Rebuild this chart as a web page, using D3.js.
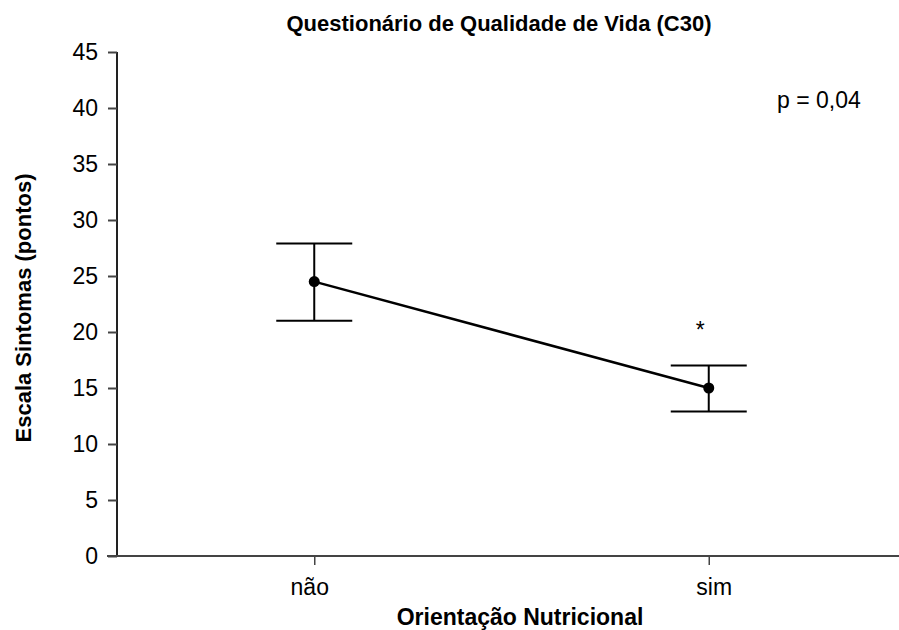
<!DOCTYPE html>
<html>
<head>
<meta charset="utf-8">
<script src="https://cdn.jsdelivr.net/npm/d3@7"></script>
<style>
  body { margin: 0; background: #fff; }
  text { font-family: "Liberation Sans", Arial, sans-serif; fill: #000; }
</style>
</head>
<body>
<svg id="canvas" width="899" height="630"></svg>
<script>
// data
var categories = ["não", "sim"];
var means = [24.5, 15.0];
var upper = [27.9, 17.0];
var lower = [21.0, 12.9];
var yTicks = [0, 5, 10, 15, 20, 25, 30, 35, 40, 45];

var svg = d3.select("#canvas");

// plot area (note: "top" is taken by window.top, so use other names)
var plotLeft = 117, plotRight = 906, plotTop = 52, plotBottom = 556;
var fontSize = "23px";

var x = d3.scalePoint().domain(categories).range([plotLeft, plotRight]).padding(0.5);
var y = d3.scaleLinear().domain([0, 45]).range([plotBottom, plotTop]);

// y axis
var yAxis = svg.append("g")
    .attr("transform", "translate(" + plotLeft + ",0)")
    .call(d3.axisLeft(y).tickValues(yTicks).tickSize(9).tickPadding(10));
yAxis.select(".domain").attr("stroke", "#222").attr("stroke-width", 2)
    .attr("d", "M0," + plotBottom + "V" + plotTop);
yAxis.selectAll(".tick line").attr("stroke", "#444").attr("stroke-width", 2);
yAxis.selectAll(".tick text").style("font-size", fontSize)
    .style("font-family", "Liberation Sans, Arial, sans-serif").attr("fill", "#000");

// x axis
var xAxis = svg.append("g")
    .attr("transform", "translate(0," + plotBottom + ")")
    .call(d3.axisBottom(x).tickSize(9).tickPadding(14));
xAxis.select(".domain").attr("stroke", "#444").attr("stroke-width", 2)
    .attr("d", "M" + (plotLeft - 10) + ",0H" + plotRight);
xAxis.selectAll(".tick line").attr("stroke", "#444").attr("stroke-width", 1.5);
xAxis.selectAll(".tick text").style("font-size", fontSize)
    .style("font-family", "Liberation Sans, Arial, sans-serif").attr("fill", "#000")
    .attr("dx", function(d, i) { return i === 0 ? -5 : 5; });

// error bars
var capHalf = 38;
var bars = svg.append("g").selectAll("g")
    .data(categories)
    .enter().append("g");

bars.append("line")
    .attr("x1", function(d) { return x(d); })
    .attr("x2", function(d) { return x(d); })
    .attr("y1", function(d, i) { return y(upper[i]); })
    .attr("y2", function(d, i) { return y(lower[i]); })
    .attr("stroke", "#000").attr("stroke-width", 2);

bars.append("line")
    .attr("x1", function(d) { return x(d) - capHalf; })
    .attr("x2", function(d) { return x(d) + capHalf; })
    .attr("y1", function(d, i) { return y(upper[i]); })
    .attr("y2", function(d, i) { return y(upper[i]); })
    .attr("stroke", "#000").attr("stroke-width", 2);

bars.append("line")
    .attr("x1", function(d) { return x(d) - capHalf; })
    .attr("x2", function(d) { return x(d) + capHalf; })
    .attr("y1", function(d, i) { return y(lower[i]); })
    .attr("y2", function(d, i) { return y(lower[i]); })
    .attr("stroke", "#000").attr("stroke-width", 2);

// mean line
var line = d3.line()
    .x(function(d) { return x(d); })
    .y(function(d, i) { return y(means[i]); });

svg.append("path")
    .datum(categories)
    .attr("d", line)
    .attr("fill", "none")
    .attr("stroke", "#000")
    .attr("stroke-width", 2.5);

svg.append("g").selectAll("circle")
    .data(categories)
    .enter().append("circle")
    .attr("cx", function(d) { return x(d); })
    .attr("cy", function(d, i) { return y(means[i]); })
    .attr("r", 5.5)
    .attr("fill", "#000");

// significance star
svg.append("text")
    .attr("x", x("sim") - 8.5)
    .attr("y", y(upper[1]) - 28)
    .attr("text-anchor", "middle")
    .style("font-size", fontSize)
    .text("*");

// p value
svg.append("text")
    .attr("x", 777)
    .attr("y", 108)
    .style("font-size", fontSize)
    .text("p = 0,04");

// title
svg.append("text")
    .attr("x", 499)
    .attr("y", 31)
    .attr("text-anchor", "middle")
    .style("font-size", "22px")
    .style("font-weight", "bold")
    .text("Questionário de Qualidade de Vida (C30)");

// axis titles
svg.append("text")
    .attr("x", 520)
    .attr("y", 625)
    .attr("text-anchor", "middle")
    .style("font-size", fontSize)
    .style("font-weight", "bold")
    .text("Orientação Nutricional");

svg.append("text")
    .attr("transform", "translate(31,308) rotate(-90)")
    .attr("text-anchor", "middle")
    .style("font-size", "22px")
    .style("font-weight", "bold")
    .text("Escala Sintomas (pontos)");
</script>
</body>
</html>
